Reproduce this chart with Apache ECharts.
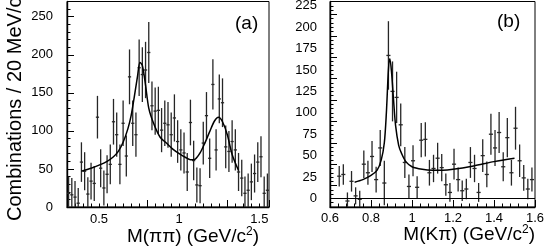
<!DOCTYPE html>
<html><head><meta charset="utf-8">
<script src="https://cdn.jsdelivr.net/npm/echarts@6/dist/echarts.min.js"></script>
<style>html,body{margin:0;padding:0;background:#fff}#c{width:545px;height:251px}</style>
</head><body><div id="c"></div>
<script>
// ---------- Panel (a): M(pi pi) ----------
const binsA = [0.31,0.33,0.35,0.37,0.39,0.41,0.43,0.45,0.47,0.49,
  0.51,0.53,0.55,0.57,0.59,0.61,0.63,0.65,0.67,0.69,
  0.71,0.73,0.75,0.77,0.79,0.81,0.83,0.85,0.87,0.89,
  0.91,0.93,0.95,0.97,0.99,1.01,1.03,1.05,1.07,1.09,
  1.11,1.13,1.15,1.17,1.19,1.21,1.23,1.25,1.27,1.29,
  1.31,1.33,1.35,1.37,1.39,1.41,1.43,1.45,1.47,1.49,
  1.51,1.53,1.55];
const countsA = [18,16,13,5,59,47,17,34,31,118,
  51,25,43,56,112,95,56,110,67,171,
  110,95,183,174,180,203,133,126,127,101,
  110,108,95,117,86,75,71,46,111,61,
  29,28,84,120,64,161,75,142,137,79,
  73,86,75,46,38,18,22,33,44,59,
  66,18,22];
const errorsA = [22,22,21,20,26,25,22,24,23,28,
  25,23,25,26,30,29,26,30,27,36,
  30,29,37,36,37,40,32,31,31,29,
  30,30,29,31,28,27,27,25,30,26,
  23,23,28,31,26,33,27,32,32,28,
  27,28,27,25,24,22,22,24,25,26,
  27,22,22];
const fitAx = [0.39,0.45,0.50,0.55,0.59,0.62,0.65,0.68,0.70,0.72,0.74,0.755,0.77,0.79,0.81,0.84,0.88,0.92,0.96,1.00,1.04,1.07,1.10,1.13,1.16,1.19,1.22,1.245,1.27,1.30,1.33,1.37];
const fitAy = [47,51,55,60,66,73,85,103,120,145,172,190,186,160,130,110,92,84,76,70,65,62,63,71,84,99,113,118,112,95,69,48];
const tickLabelsAx = [0.5, 1, 1.5];
const tickLabelsAy = [0, 50, 100, 150, 200, 250];

// ---------- Panel (b): M(K pi) ----------
const binsB = [0.645,0.665,0.685,0.705,0.725,0.745,0.765,0.785,0.805,0.825,
  0.845,0.865,0.885,0.905,0.925,0.945,0.965,0.985,1.005,1.025,
  1.045,1.065,1.085,1.105,1.125,1.145,1.165,1.185,1.205,1.225,
  1.245,1.265,1.285,1.305,1.325,1.345,1.365,1.385,1.405,1.425,
  1.445,1.465,1.485,1.505,1.525,1.545,1.565,1.585];
const countsB = [26,28,-3,20,3,-1,40,30,49,22,
  59,18,167,125,118,86,42,14,44,13,
  68,69,30,35,47,36,16,7,40,22,
  9,11,42,35,7,50,28,75,59,77,
  37,71,30,82,44,24,11,22];
const errorsB = [12,12,10,12,10,10,16,14,18,15,
  21,26,40,35,30,25,18,14,18,13,
  20,20,15,16,18,16,13,11,18,14,
  12,12,18,16,11,19,15,24,21,24,
  17,23,15,25,19,15,12,14];
const fitBx = [0.72,0.76,0.80,0.83,0.85,0.865,0.875,0.885,0.892,0.90,0.91,0.92,0.935,0.95,0.97,1.00,1.05,1.10,1.15,1.20,1.30,1.40,1.50];
const fitBy = [19,22,27,33,45,65,100,150,163,148,115,85,62,52,43,37,34,33,33,34,38,43,47];
const tickLabelsBx = [0.6, 0.8, 1, 1.2, 1.4, 1.6];
const tickLabelsBy = [0, 25, 50, 75, 100, 125, 150, 175, 200, 225];

const FONT = '"Liberation Sans", Arial, Helvetica, sans-serif';
const chart = echarts.init(document.getElementById('c'), null, {renderer: 'canvas', width: 545, height: 251});

function labelFmt(list) {
  return function (v) {
    for (const t of list) if (Math.abs(t - v) < 1e-6) return String(+t.toFixed(2));
    return '';
  };
}
function errSeries(xs, ys, es, halfW, ai) {
  return {
    type: 'custom', xAxisIndex: ai, yAxisIndex: ai, silent: true, z: 2,
    data: xs.map((x, i) => [x, ys[i], es[i]]),
    renderItem: function (params, api) {
      const cs = params.coordSys;
      const x = api.value(0), y = api.value(1), e = api.value(2);
      const cy = v => Math.max(cs.y, Math.min(cs.y + cs.height, v));
      const cx = v => Math.max(cs.x, Math.min(cs.x + cs.width, v));
      const c = api.coord([x, y]), t = api.coord([x, y + e]), b = api.coord([x, y - e]);
      const l = api.coord([x - halfW, y]), r = api.coord([x + halfW, y]);
      const st = {stroke: '#262626', lineWidth: 1.3};
      const ch = [];
      if (c[0] >= cs.x && c[0] <= cs.x + cs.width) {
        ch.push({type: 'line', shape: {x1: c[0], y1: cy(t[1]), x2: c[0], y2: cy(b[1])}, style: st});
        if (c[1] >= cs.y && c[1] <= cs.y + cs.height)
          ch.push({type: 'line', shape: {x1: cx(l[0]), y1: c[1], x2: cx(r[0]), y2: c[1]}, style: st});
      }
      return {type: 'group', children: ch};
    }
  };
}
function fitSeries(xs, ys, ai, extra) {
  return Object.assign({
    type: 'line', xAxisIndex: ai, yAxisIndex: ai, silent: true, z: 3,
    data: xs.map((x, i) => [x, ys[i]]), smooth: 0.3, symbol: 'none',
    lineStyle: {color: '#000', width: 1.5}
  }, extra || {});
}
const lbl = {color: '#000', fontSize: 13, fontFamily: FONT};
function minorAxis(grid, min, max, interval, labels, margin, isX) {
  return {
    type: 'value', gridIndex: grid, min: min, max: max, interval: interval,
    position: isX ? 'bottom' : 'left',
    axisLine: {show: true, onZero: false, lineStyle: {color: '#000', width: 1.4}},
    axisTick: {show: true, inside: true, length: 3.5, lineStyle: {color: '#000', width: 1}},
    axisLabel: Object.assign({show: true, margin: margin, formatter: labelFmt(labels), showMinLabel: true, showMaxLabel: true}, lbl),
    splitLine: {show: false}
  };
}
function majorAxis(grid, min, max, interval, isX) {
  return {
    type: 'value', gridIndex: grid, min: min, max: max, interval: interval,
    position: isX ? 'bottom' : 'left',
    axisLine: {show: false, onZero: false},
    axisTick: {show: true, inside: true, length: 7, lineStyle: {color: '#000', width: 1}},
    axisLabel: {show: false}, splitLine: {show: false}
  };
}

const option = {
  animation: false,
  backgroundColor: '#fff',
  grid: [
    {left: 67, top: 1.5, width: 202, height: 205.5, show: true, borderColor: '#000', borderWidth: 1, containLabel: false, outerBoundsMode: 'none'},
    {left: 330, top: 1.5, width: 205, height: 205.5, show: true, borderColor: '#000', borderWidth: 1, containLabel: false, outerBoundsMode: 'none'}
  ],
  xAxis: [
    minorAxis(0, 0.3, 1.56, 0.05, tickLabelsAx, 6, true),
    minorAxis(1, 0.6, 1.6, 0.04, tickLabelsBx, 5, true),
    majorAxis(0, 0.3, 1.56, 0.5, true),
    majorAxis(1, 0.6, 1.6, 0.2, true)
  ],
  yAxis: [
    minorAxis(0, 0, 270, 10, tickLabelsAy, 14, false),
    minorAxis(1, -10, 230, 5, tickLabelsBy, 13, false),
    majorAxis(0, 0, 270, 50, false),
    majorAxis(1, -10, 230, 25, false)
  ],
  series: [
    errSeries(binsA, countsA, errorsA, 0.01, 0),
    fitSeries(fitAx, fitAy, 0),
    errSeries(binsB, countsB, errorsB, 0.01, 1),
    fitSeries(fitBx, fitBy, 1, {
      markLine: {silent: true, symbol: 'none', label: {show: false},
        lineStyle: {color: '#000', width: 1, type: 'solid'}, data: [{yAxis: 0}]}
    })
  ],
  graphic: [
    {type: 'text', left: 235, top: 14, style: {text: '(a)', fontSize: 19, fontFamily: FONT, fill: '#000'}},
    {type: 'text', left: 497, top: 12, style: {text: '(b)', fontSize: 19, fontFamily: FONT, fill: '#000'}},
    {type: 'text', x: 259, y: 237, style: {text: 'M(ππ) (GeV/c{s|2})', align: 'right', verticalAlign: 'middle', fontSize: 19, fontFamily: FONT, fill: '#000',
      rich: {s: {fontSize: 12, fontFamily: FONT, fill: '#000', padding: [0, 0, 10, 0]}}}},
    {type: 'text', x: 535, y: 235, style: {text: 'M(Kπ) (GeV/c{s|2})', align: 'right', verticalAlign: 'middle', fontSize: 19, fontFamily: FONT, fill: '#000',
      rich: {s: {fontSize: 12, fontFamily: FONT, fill: '#000', padding: [0, 0, 10, 0]}}}},
    {type: 'text', x: 15, y: 221, rotation: Math.PI / 2, style: {text: 'Combinations / 20 MeV/c{s|2}', align: 'left', verticalAlign: 'middle', fontSize: 20, fontFamily: FONT, fill: '#000',
      rich: {s: {fontSize: 13, fontFamily: FONT, fill: '#000', padding: [0, 0, 10, 0]}}}}
  ]
};
chart.setOption(option);
</script>
</body></html>
